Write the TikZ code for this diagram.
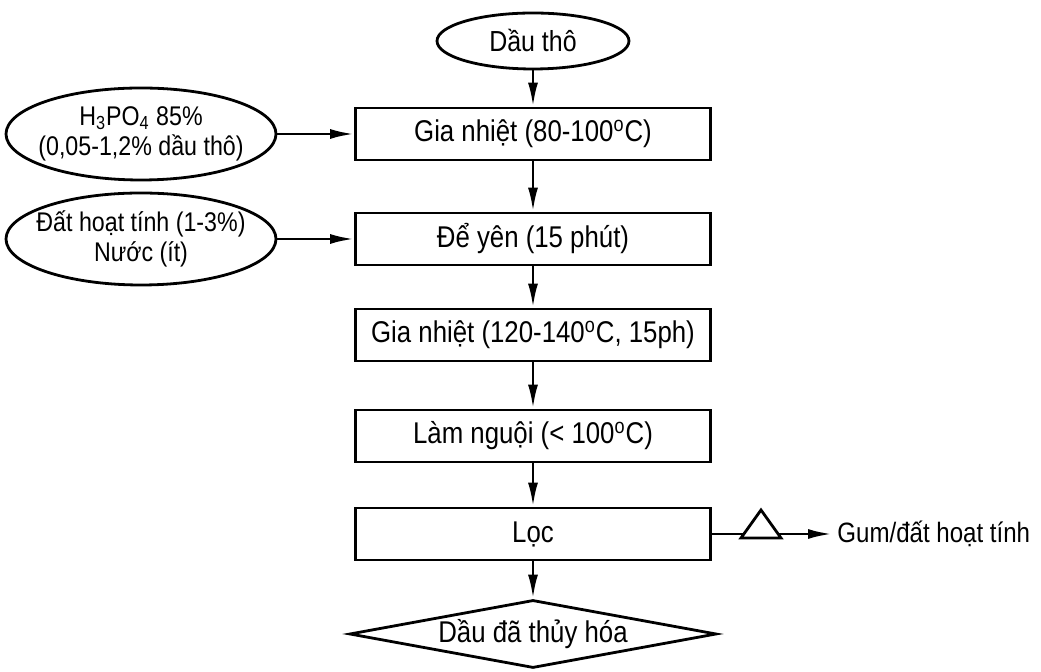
\documentclass[tikz,border=0pt]{standalone}
\usepackage{fontspec}
\setmainfont[FakeStretch=0.86]{Liberation Sans}
\usetikzlibrary{arrows.meta,shapes.geometric,positioning}

\begin{document}
\begin{tikzpicture}[>={Latex[length=12pt,width=5pt]}, x=0.5pt, y=-0.5pt,
  line width=1.4pt, font=\fontsize{15pt}{13.5pt}\selectfont,
  stepbox/.style={draw, rectangle, minimum width=177.5pt,
    minimum height=26pt, inner sep=0pt},
  feed/.style={draw, ellipse, align=center, minimum width=135pt,
    minimum height=46pt, inner xsep=-8pt, inner ysep=0pt,
    font=\fontsize{13.5pt}{15pt}\selectfont},
  flow/.style={->}]

\useasboundingbox (0,0) rectangle (1041,672);

% --- Main line ---
\node[feed, minimum width=96pt, minimum height=28pt,
      font=\fontsize{14.5pt}{15pt}\selectfont] (crude) at (533,41) {Dầu thô};
\node[stepbox] (heat1) at (533,134) {Gia nhiệt (80-100\textsuperscript{o}C)};
\node[stepbox] (rest) at (533,239) {Để yên (15 phút)};
\node[stepbox] (heat2) at (533,335) {Gia nhiệt (120-140\textsuperscript{o}C, 15ph)};
\node[stepbox] (cool) at (533,436) {Làm nguội (< 100\textsuperscript{o}C)};
\node[stepbox] (filter) at (533,534) {Lọc};
\node[draw, diamond, shape aspect=5.4, minimum width=183.5pt,
      minimum height=34pt, inner sep=0pt] (product) at (533,634)
  {Dầu đã thủy hóa};

% --- Feeds on the left ---
\node[feed] (acid) at (141,134)
  {H\textsubscript{3}PO\textsubscript{4} 85\%\\(0,05-1,2\% dầu thô)};
\node[feed] (clay) at (141,239) {Đất hoạt tính (1-3\%)\\Nước (ít)};

% --- Arrows down ---
\draw[flow] (crude) -- (heat1);
\draw[flow] (heat1) -- (rest);
\draw[flow] (rest) -- (heat2);
\draw[flow] (heat2) -- (cool);
\draw[flow] (cool) -- (filter);
\draw[flow] (filter) -- (product);

\draw[flow] (acid) -- (heat1);
\draw[flow] (clay) -- (rest);

% --- Filter cake out ---
\coordinate (trapL) at (744,534);
\coordinate (trapR) at (778,534);
\node[anchor=west, inner sep=2pt, font=\fontsize{14pt}{14pt}\selectfont]
  (waste) at (832,534) {Gum/đất hoạt tính};
\draw (filter) -- (trapL);
\draw (741,538) -- (761,510) -- (781,538) -- cycle;
\draw[flow] (trapR) -- (waste);

\end{tikzpicture}
\end{document}
